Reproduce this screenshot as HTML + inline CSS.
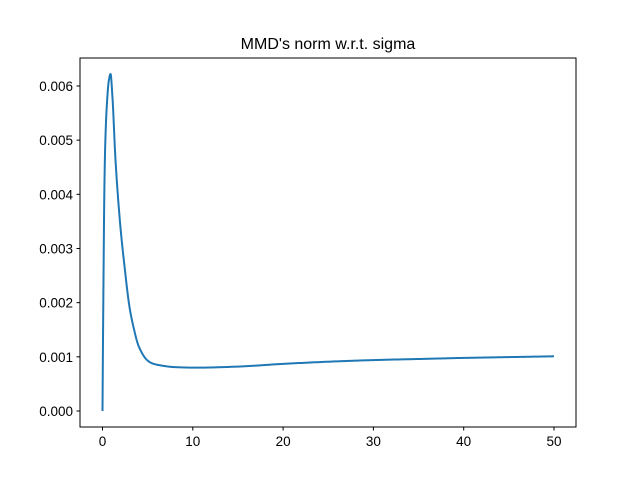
<!DOCTYPE html>
<html><head><meta charset="utf-8"><style>
body{margin:0;background:#fff}
svg text{font-family:"Liberation Sans","DejaVu Sans",sans-serif;fill:#000}
</style></head><body>
<svg width="640" height="480" id="c">
<rect width="640" height="480" fill="#fff"/>
<text x="328" y="49" text-anchor="middle" font-size="16">MMD's norm w.r.t. sigma</text>
<g id="ticks"></g>
<path id="line" fill="none" stroke="#1f77b4" stroke-width="2" stroke-linejoin="round"/>
<rect x="80" y="58" width="496" height="369" fill="none" stroke="#000" stroke-width="1"/>
</svg>
<script>
const xs=[0,0.05,0.12,0.2,0.3,0.5,0.7,0.89,1.1,1.44,2.0,2.36,3.0,3.43,4.0,4.94,5.5,6.5,8,10.5,15,20,25,30,35,40,45,50];
const ys=[0,0.0012,0.0026,0.0040,0.0049,0.0057,0.0061,0.00622,0.0058,0.00463,0.00337,0.00279,0.00191,0.00155,0.0012,0.00094,0.00088,0.00084,0.00081,0.0008,0.00082,0.00087,0.00091,0.00094,0.00096,0.00098,0.000995,0.00101];
const xTicks=[0,10,20,30,40,50];
const yTicks=[0,0.001,0.002,0.003,0.004,0.005,0.006];
const X=v=>102.5+v*9.03;
const Y=v=>411-v*54170;
const ns="http://www.w3.org/2000/svg";
const g=document.getElementById('ticks');
function mk(t,a){const e=document.createElementNS(ns,t);for(const k in a)e.setAttribute(k,a[k]);g.appendChild(e);return e;}
xTicks.forEach(v=>{
 const l=mk('line',{x1:X(v),x2:X(v),y1:427,y2:430.5,stroke:'#000'});
 
 
 const t=mk('text',{x:X(v),y:446,'text-anchor':'middle','font-size':'13.5'});
 t.textContent=v;
 
 
});
yTicks.forEach(v=>{
 const l=mk('line',{x1:76.5,x2:80,y1:Y(v),y2:Y(v),stroke:'#000'});
 
 
 const t=mk('text',{x:73,y:Y(v)+5,'text-anchor':'end','font-size':'13.5'});
 t.textContent=v.toFixed(3);
 
 
});
const n=xs.length,h=[],dl=[],m=[];
for(let i=0;i<n-1;i++){h[i]=xs[i+1]-xs[i];dl[i]=(ys[i+1]-ys[i])/h[i];}
m[0]=dl[0];m[n-1]=dl[n-2];
for(let i=1;i<n-1;i++){
 if(dl[i-1]*dl[i]<=0)m[i]=0;
 else{const w1=2*h[i]+h[i-1],w2=h[i]+2*h[i-1];m[i]=(w1+w2)/(w1/dl[i-1]+w2/dl[i]);}
}
let d='M'+X(xs[0])+','+Y(ys[0]);
for(let i=0;i<n-1;i++){
 const steps=20;
 for(let s=1;s<=steps;s++){
  const t=s/steps,t2=t*t,t3=t2*t;
  const y=(2*t3-3*t2+1)*ys[i]+(t3-2*t2+t)*h[i]*m[i]+(-2*t3+3*t2)*ys[i+1]+(t3-t2)*h[i]*m[i+1];
  d+=' L'+X(xs[i]+t*h[i]).toFixed(2)+','+Y(y).toFixed(2);
 }
}
document.getElementById('line').setAttribute('d',d);
</script>
</body></html>
